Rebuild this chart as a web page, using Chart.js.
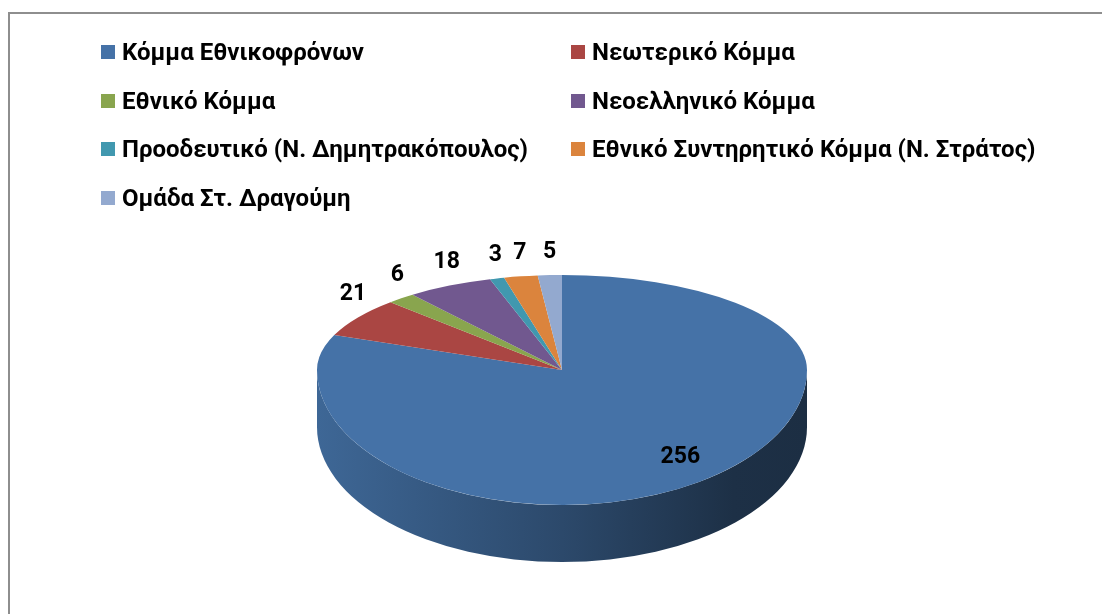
<!DOCTYPE html>
<html>
<head>
<meta charset="utf-8">
<script src="https://cdn.jsdelivr.net/npm/chart.js@4"></script>
<style>
  html, body { margin: 0; padding: 0; background: #fff; overflow: hidden; width: 1102px; height: 614px; }
  #frame { position: absolute; left: 8px; top: 12px; width: 1200px; height: 700px; border: 2px solid #8e8e8e; box-sizing: border-box; }
  #c { position: absolute; left: 0; top: 0; }
  #legend { position: absolute; left: 0; top: 0; font-family: Roboto, "Noto Sans", sans-serif; font-weight: bold; font-size: 24px; color: #000; }
  .item { position: absolute; display: flex; align-items: center; height: 24px; white-space: nowrap; }
  .box { width: 14px; height: 14px; margin-right: 7px; flex: none; }
</style>
</head>
<body>
<div id="frame"></div>
<canvas id="c" width="1102" height="614"></canvas>
<div id="legend"></div>
<script>
const categories = [
  "Κόμμα Εθνικοφρόνων",
  "Νεωτερικό Κόμμα",
  "Εθνικό Κόμμα",
  "Νεοελληνικό Κόμμα",
  "Προοδευτικό (Ν. Δημητρακόπουλος)",
  "Εθνικό Συντηρητικό Κόμμα (Ν. Στράτος)",
  "Ομάδα Στ. Δραγούμη"
];
const seats = [256, 21, 6, 18, 3, 7, 5];
const sliceColors = ["#4572A7", "#AA4643", "#89A54E", "#71588F", "#4198AF", "#DB843D", "#93A9CF"];

// 3D look (screen pixels)
const RX = 245, RY_TOP = 95, RY_BOT = 135, DEPTH = 57;

function shade(hex, f) {
  const n = parseInt(hex.slice(1), 16);
  const r = Math.round(((n >> 16) & 255) * f), g = Math.round(((n >> 8) & 255) * f), b = Math.round((n & 255) * f);
  return `rgb(${r},${g},${b})`;
}

const pie3d = {
  id: "pie3d",
  beforeDatasetsDraw(chart) {
    const ctx = chart.ctx;
    const meta = chart.getDatasetMeta(0);
    const arcs = meta.data;
    const cx = arcs[0].x, cy = arcs[0].y, R = arcs[0].outerRadius;
    // side walls of front-facing parts
    arcs.forEach((a, i) => {
      const s = a.startAngle, e = a.endAngle;
      for (const k of [-2 * Math.PI, 0, 2 * Math.PI]) {
        const a0 = Math.max(s, k), a1 = Math.min(e, k + Math.PI);
        if (a1 > a0) {
          ctx.save();
          ctx.beginPath();
          ctx.ellipse(cx, cy, RX, RY_BOT, 0, a0, a1);
          ctx.ellipse(cx, cy + DEPTH, RX, RY_BOT, 0, a1, a0, true);
          ctx.closePath();
          const g = ctx.createLinearGradient(cx - RX, 0, cx + RX, 0);
          const col = sliceColors[i];
          g.addColorStop(0, shade(col, 0.9));
          g.addColorStop(0.5, shade(col, 0.64));
          g.addColorStop(0.85, shade(col, 0.42));
          g.addColorStop(1, shade(col, 0.4));
          ctx.fillStyle = g;
          ctx.fill();
          ctx.restore();
        }
      }
    });
    // top face: far half and near half with different foreshortening
    const W = chart.width, H = chart.height;
    const halves = [[0, cy + 1, RY_TOP], [cy, H, RY_BOT]];
    for (const [y0, y1, ry] of halves) {
      ctx.save();
      ctx.beginPath();
      ctx.rect(0, y0, W, y1 - y0);
      ctx.clip();
      ctx.translate(cx, cy);
      ctx.scale(RX / R, ry / R);
      ctx.translate(-cx, -cy);
      meta.controller.draw();
      ctx.restore();
    }
    return false;
  },
  afterDraw(chart) {
    const ctx = chart.ctx;
    const arcs = chart.getDatasetMeta(0).data;
    const total = seats.reduce((p, v) => p + v, 0);
    const cx = arcs[0].x, cy = arcs[0].y;
    ctx.save();
    ctx.font = "bold 23px Roboto, 'Noto Sans', sans-serif";
    ctx.fillStyle = "#000";
    ctx.textAlign = "center";
    ctx.textBaseline = "middle";
    arcs.forEach((a, i) => {
      const t = (a.startAngle + a.endAngle) / 2;
      const c = Math.cos(t), s = Math.sin(t);
      const ry = s > 0 ? RY_BOT : RY_TOP;
      let x, y;
      if (seats[i] / total > 0.5) {
        x = cx + RX * 0.86 * c;
        y = cy + ry * 0.78 * s;
      } else {
        x = cx + RX * c + 6 * c;
        y = s < 0 ? cy + ry * s - 23 : cy + ry * s + DEPTH + 20;
      }
      ctx.fillText(String(seats[i]), x, y);
    });
    ctx.restore();
  }
};

new Chart(document.getElementById("c"), {
  type: "pie",
  data: {
    labels: categories,
    datasets: [{ data: seats, backgroundColor: sliceColors, borderWidth: 0 }]
  },
  options: {
    responsive: false,
    animation: false,
    events: [],
    layout: { padding: { left: 362, right: 340, top: 170, bottom: 44 } },
    plugins: { legend: { display: false }, tooltip: { enabled: false } }
  },
  plugins: [pie3d]
});

// legend in two columns
const legend = document.getElementById("legend");
categories.forEach((name, i) => {
  const col = i % 2, row = Math.floor(i / 2);
  const it = document.createElement("div");
  it.className = "item";
  it.style.left = (col ? 571 : 101) + "px";
  it.style.top = (40 + row * 48.5) + "px";
  const b = document.createElement("span");
  b.className = "box";
  b.style.background = sliceColors[i];
  const t = document.createElement("span");
  t.textContent = name;
  it.appendChild(b);
  it.appendChild(t);
  legend.appendChild(it);
});
</script>
</body>
</html>
